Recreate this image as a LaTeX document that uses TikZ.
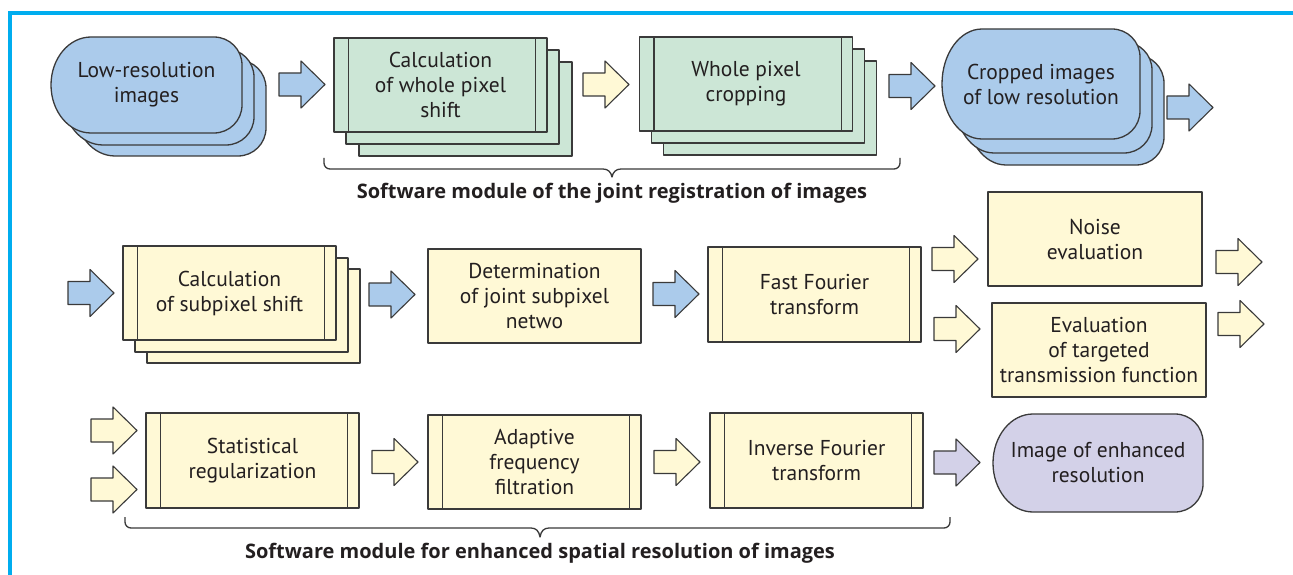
\documentclass[tikz,border=0pt]{standalone}
\usepackage{fontspec}
\setmainfont{PT Sans}
\newfontfamily\lblfont{Open Sans}
\usetikzlibrary{calc}
\definecolor{bluef}{HTML}{ABCBEB}
\definecolor{greenf}{HTML}{CCE6D6}
\definecolor{yellowf}{HTML}{FFF9D6}
\definecolor{purplef}{HTML}{D3D1E8}
\definecolor{linec}{HTML}{3A3A3A}
\definecolor{textc}{HTML}{231F20}
\definecolor{framec}{HTML}{00ADEF}
\newcommand\pill[5]{%
  \pgfmathsetmacro\pym{(#3+#5)/2}%
  \pgfmathsetmacro\pyh{(#5-#3)/2*0.5523}%
  \draw[shapeline, fill=#1] ({#2+40},#3) -- ({#4-28},#3)
    .. controls ({#4-12.54},#3) and (#4,{#3+12.54}) .. (#4,{#3+28})
    -- (#4,{#5-28})
    .. controls (#4,{#5-12.54}) and ({#4-12.54},#5) .. ({#4-28},#5)
    -- ({#2+40},#5)
    .. controls ({#2+17.9},#5) and (#2,{\pym+\pyh}) .. (#2,\pym)
    .. controls (#2,{\pym-\pyh}) and ({#2+17.9},#3) .. ({#2+40},#3) -- cycle;}
\newcommand\sidelines[1]{%
  \draw[shapeline] ([xshift=15pt]#1.north west) -- ([xshift=15pt]#1.south west);
  \draw[shapeline] ([xshift=-12pt]#1.north east) -- ([xshift=-12pt]#1.south east);}
\newcommand\bracket[6]{% x1 x2 xm ytop yline ytip
  \draw[shapeline] (#1,#4) -- (#1,{#5-6}) .. controls (#1,{#5-2.7}) and ({#1+2.7},#5) .. ({#1+6},#5)
    -- ({#3-9},#5) .. controls ({#3-4},#5) and ({#3-1},{#5+3}) .. (#3,#6)
    .. controls ({#3+1},{#5+3}) and ({#3+4},#5) .. ({#3+9},#5)
    -- ({#2-6},#5) .. controls ({#2-2.7},#5) and (#2,{#5-2.7}) .. (#2,{#5-6}) -- (#2,#4);}
\begin{document}
\begin{tikzpicture}[x=1pt,y=-1pt,
  shapeline/.style={draw=linec, line width=1.3pt, line join=round},
  rbox/.style={shapeline, inner sep=0pt, minimum width=213pt, minimum height=94pt},
  txt/.style={align=center, text=textc, font=\fontsize{21.5}{25}\selectfont, inner sep=0pt},
  lbl/.style={text=textc, font=\lblfont\fontsize{20}{24}\selectfont\bfseries, inner sep=0pt, anchor=base},
  barrow/.pic={\draw[shapeline, line width=1.1pt, fill=#1] (0,-11.5) -- (22,-11.5) -- (22,-23.5) -- (46,0) -- (22,23.5) -- (22,11.5) -- (0,11.5) -- cycle;}]
\useasboundingbox (0,0) rectangle (1293,575);
\fill[white] (0,0) rectangle (1293,575);
\draw[framec, line width=3.2pt] (10,576) -- (10,13) -- (1294,13);

% ---------- row 1
\pill{bluef}{75}{60}{266}{156}
\pill{bluef}{63}{49}{254}{145}
\pill{bluef}{51}{37}{242}{133}
\node[txt] (lowres) at (146.5,85) {Low-resolution\\images};

\pic (a1) at (279,84.5) {barrow=bluef};

\node[rbox, fill=greenf] (cw3) at (465.5,109) {};
\node[rbox, fill=greenf] (cw2) at (452.5,97) {};
\node[rbox, fill=greenf] (cw) at (440.5,85) {};
\sidelines{cw}
\node[txt] (cwt) at (cw) {Calculation\\of whole pixel\\shift};

\pic (a2) at (583,84.5) {barrow=yellowf};

\node[rbox, fill=greenf] (cr3) at (770,108) {};
\node[rbox, fill=greenf] (cr2) at (758,96) {};
\node[rbox, fill=greenf] (cr) at (746,84) {};
\sidelines{cr}
\node[txt] (crt) at (cr) {Whole pixel\\cropping};

\pic (a3) at (889,86) {barrow=bluef};

\pill{bluef}{966}{55}{1164}{165}
\pill{bluef}{954}{42}{1152}{153}
\pill{bluef}{942}{29}{1140}{139}
\node[txt] (cropped) at (1041,84) {Cropped images\\of low resolution};

\pic (a4) at (1167,107.5) {barrow=bluef};

\bracket{324}{900}{612}{158}{169}{177}
\node[lbl] (lab1) at (612,198) {Software module of the joint registration of images};

% ---------- row 2
\pic (a5) at (68,293) {barrow=bluef};

\node[rbox, fill=yellowf] (sp3) at (253.5,316) {};
\node[rbox, fill=yellowf] (sp2) at (241.5,305) {};
\node[rbox, fill=yellowf] (sp) at (229.5,293) {};
\sidelines{sp}
\node[txt] (spt) at (sp) {Calculation\\of subpixel shift};

\pic (a6) at (369,294.5) {barrow=bluef};

\node[rbox, fill=yellowf, align=center, text=textc, font=\fontsize{21.5}{25}\selectfont] (det) at (534.5,296) {Determination\\of joint subpixel\\netwo};

\pic (a7) at (653,294) {barrow=bluef};

\node[rbox, fill=yellowf, minimum height=95pt] (fft) at (814.5,294.5) {};
\sidelines{fft}
\node[txt] (fftt) at (fft) {Fast Fourier\\transform};

\pic (a8) at (932,259) {barrow=yellowf};
\pic (a9) at (934,329) {barrow=yellowf};

\node[rbox, fill=yellowf, minimum width=214pt, align=center, text=textc, font=\fontsize{21.5}{25}\selectfont] (noise) at (1095,239) {Noise\\evaluation};
\node[rbox, fill=yellowf, minimum width=214pt, align=center, text=textc, font=\fontsize{21.5}{25}\selectfont] (evtf) at (1099,350) {Evaluation\\of targeted\\transmission function};

\pic (a10) at (1216,262) {barrow=yellowf};
\pic (a11) at (1218,324) {barrow=yellowf};

% ---------- row 3
\pic (a12) at (91,430.5) {barrow=yellowf};
\pic (a13) at (91,489.5) {barrow=yellowf};

\node[rbox, fill=yellowf, minimum height=95pt] (stat) at (252.5,460.5) {};
\sidelines{stat}
\node[txt] (statt) at (stat) {Statistical\\regularization};

\pic (a14) at (372,462) {barrow=yellowf};

\node[rbox, fill=yellowf] (adapt) at (534.5,462) {};
\sidelines{adapt}
\node[txt] (adaptt) at (adapt) {Adaptive\\frequency\\filtration};

\pic (a15) at (654,462) {barrow=yellowf};

\node[rbox, fill=yellowf, minimum height=95pt] (ifft) at (816.5,460.5) {};
\sidelines{ifft}
\node[txt] (ifftt) at (ifft) {Inverse Fourier\\transform};

\pic (a16) at (934,462.5) {barrow=purplef};

\pill{purplef}{993}{414}{1203}{512}
\node[txt] (enh) at (1098,463) {Image of enhanced\\resolution};

\bracket{125}{950}{540}{517}{528}{537}
\node[lbl] (lab2) at (540,558) {Software module for enhanced spatial resolution of images};
\end{tikzpicture}
\end{document}
